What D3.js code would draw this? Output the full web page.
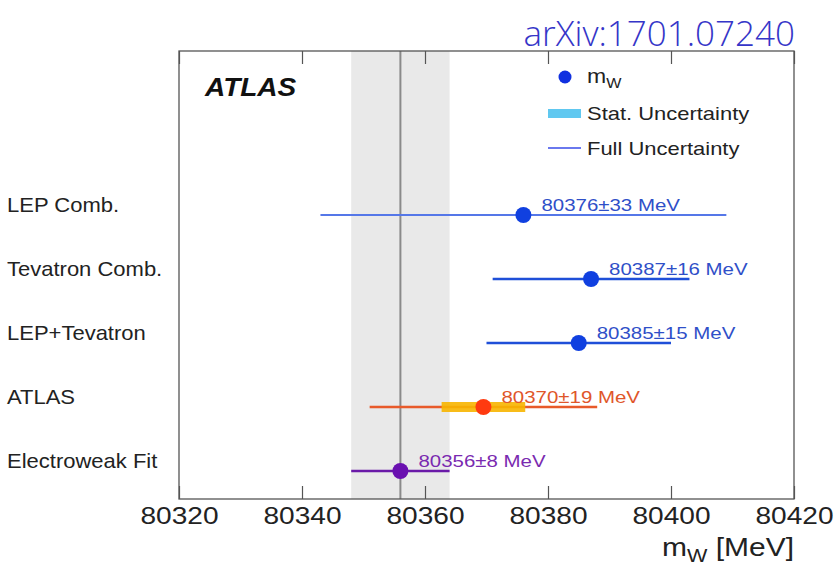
<!DOCTYPE html>
<html><head><meta charset="utf-8">
<script src="https://cdn.jsdelivr.net/npm/d3@7"></script>
<style>body{margin:0;background:#fff}</style>
</head><body><svg id="c" width="836" height="568"></svg>
<script>
const categories = ["LEP Comb.", "Tevatron Comb.", "LEP+Tevatron", "ATLAS", "Electroweak Fit"];
const centralValues = [80376, 80387, 80385, 80369.5, 80356];
const fullUncertainty = [33, 16, 15, 18.5, 8];
const statUncertainty = [null, null, null, 6.8, null];
const valueLabels = ["80376\u00b133 MeV", "80387\u00b116 MeV", "80385\u00b115 MeV", "80370\u00b119 MeV", "80356\u00b18 MeV"];
const lineColors = ["#5577e8", "#1f4fd8", "#1f4fd8", "#e85a2a", "#6a1aa8"];
const pointColors = ["#1040e0", "#1040e0", "#1040e0", "#ff3a10", "#6a10b0"];
const textColors = ["#2f4fc8", "#2f4fc8", "#2f4fc8", "#e0562a", "#7a2ab0"];
const xTicks = [80320, 80340, 80360, 80380, 80400, 80420];
const bandRange = [80348, 80364];
const refValue = 80356;

const FONT = "Liberation Sans, Arial, sans-serif";
const svg = d3.select("#c");
const L = 179, R = 794, T = 51, B = 499;
const x = d3.scaleLinear().domain([80320, 80420]).range([L, R]);
const y = d3.scalePoint().domain(categories).range([215, 471]);

function stxt(parent, px, py, k) {
  return parent.append("text").attr("transform", `translate(${px},${py}) scale(${k},1)`);
}

svg.append("rect").attr("x", x(bandRange[0])).attr("y", T)
  .attr("width", x(bandRange[1]) - x(bandRange[0])).attr("height", B - T).attr("fill", "#e9e9e9");
svg.append("line").attr("x1", x(refValue)).attr("x2", x(refValue)).attr("y1", T).attr("y2", B)
  .attr("stroke", "#8a8a8a").attr("stroke-width", 2);

svg.append("rect").attr("x", L).attr("y", T).attr("width", R - L).attr("height", B - T)
  .attr("fill", "none").attr("stroke", "#555").attr("stroke-width", 1.3);

const axB = d3.axisBottom(x).tickValues(xTicks).tickSize(-13).tickPadding(0).tickFormat(d3.format("d"));
const gB = svg.append("g").attr("transform", `translate(0,${B})`).call(axB);
gB.select(".domain").remove();
gB.selectAll(".tick line").attr("stroke", "#555").attr("stroke-width", 1.2);
gB.selectAll(".tick text").attr("font-family", FONT).attr("font-size", 24).attr("fill", "#222")
  .attr("y", 0).attr("dy", 0).attr("transform", "translate(0,25) scale(1.17,1)");
const axT = d3.axisTop(x).tickValues(xTicks).tickSize(-13).tickFormat("");
const gT = svg.append("g").attr("transform", `translate(0,${T})`).call(axT);
gT.select(".domain").remove();
gT.selectAll(".tick line").attr("stroke", "#555").attr("stroke-width", 1.2);

svg.append("text").attr("x", 795).attr("y", 46).attr("text-anchor", "end")
  .attr("font-family", "Open Sans, sans-serif").attr("font-weight", 300).attr("font-size", 35)
  .attr("fill", "#3535c8").text("arXiv:1701.07240");

stxt(svg, 205, 96, 1.12).attr("font-family", FONT)
  .attr("font-weight", "bold").attr("font-style", "italic").attr("font-size", 25).attr("fill", "#111").text("ATLAS");

const at = stxt(svg, 794, 556, 1.2).attr("text-anchor", "end")
  .attr("font-family", FONT).attr("font-size", 25).attr("fill", "#222");
at.append("tspan").text("m");
at.append("tspan").attr("font-size", 18).attr("dy", 6).text("W");
at.append("tspan").attr("dy", -6).text(" [MeV]");

const rows = categories.map((c, i) => ({c, v: centralValues[i], e: fullUncertainty[i], s: statUncertainty[i], lab: valueLabels[i], i}));

rows.forEach(d => {
  stxt(svg, 7, y(d.c) - 3, 1.1).attr("font-family", FONT)
    .attr("font-size", 20).attr("fill", "#222").text(d.c);
});

svg.selectAll(".full").data(rows).enter().append("line")
  .attr("x1", d => x(d.v - d.e)).attr("x2", d => x(d.v + d.e))
  .attr("y1", d => y(d.c)).attr("y2", d => y(d.c))
  .attr("stroke", d => lineColors[d.i]).attr("stroke-width", d => d.i === 0 ? 2 : 2.6);

svg.selectAll(".stat").data(rows.filter(d => d.s != null)).enter().append("line")
  .attr("x1", d => x(d.v - d.s)).attr("x2", d => x(d.v + d.s))
  .attr("y1", d => y(d.c)).attr("y2", d => y(d.c))
  .attr("stroke", "#f7b500").attr("stroke-width", 10).attr("stroke-opacity", 0.9);

svg.selectAll(".pt").data(rows).enter().append("circle")
  .attr("cx", d => x(d.v)).attr("cy", d => y(d.c)).attr("r", 8).attr("fill", d => pointColors[d.i]);

rows.forEach(d => {
  stxt(svg, x(d.v) + 18, y(d.c) - 4, 1.24).attr("font-family", FONT).attr("font-size", 16.5)
    .attr("fill", textColors[d.i]).text(d.lab);
});

const lg = svg.append("g").attr("font-family", FONT).attr("fill", "#222");
lg.append("circle").attr("cx", 565).attr("cy", 77).attr("r", 6.5).attr("fill", "#1030e0");
const mt = stxt(lg, 587, 83, 1.15).attr("font-size", 20);
mt.append("tspan").text("m");
mt.append("tspan").attr("font-size", 14).attr("dy", 5).text("W");
lg.append("rect").attr("x", 548).attr("y", 109).attr("width", 33).attr("height", 9).attr("fill", "#60c8f0");
stxt(lg, 587, 120, 1.22).attr("font-size", 18).text("Stat. Uncertainty");
lg.append("line").attr("x1", 548).attr("x2", 581).attr("y1", 148).attr("y2", 148).attr("stroke", "#6a78ee").attr("stroke-width", 2);
stxt(lg, 587, 155, 1.22).attr("font-size", 18).text("Full Uncertainty");
</script></body></html>
